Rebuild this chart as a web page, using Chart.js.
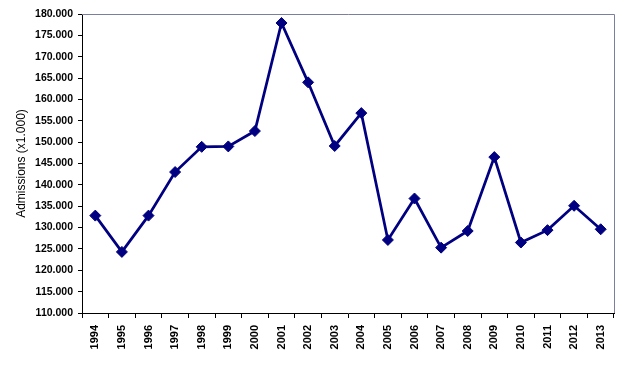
<!DOCTYPE html>
<html>
<head>
<meta charset="utf-8">
<script src="https://cdn.jsdelivr.net/npm/chart.js@4"></script>
<style>
  html, body { margin: 0; padding: 0; background: #fff; }
  #wrap { width: 641px; height: 370px; }
</style>
</head>
<body>
<div id="wrap"><canvas id="admissionsChart"></canvas></div>
<script>
// Chart data
const years = ['1994', '1995', '1996', '1997', '1998', '1999', '2000', '2001', '2002', '2003',
               '2004', '2005', '2006', '2007', '2008', '2009', '2010', '2011', '2012', '2013'];
const admissions = [132800, 124300, 132800, 143000, 148900, 149000, 152600, 177900, 164000, 149100,
                    156800, 127100, 136800, 125300, 129200, 146500, 126500, 129400, 135100, 129600];
const yMin = 110000;
const yMax = 180000;
const yStep = 5000;

// European thousands separator: 110000 -> 110.000
function formatThousands(v) {
    return String(v).replace(/\B(?=(\d{3})+(?!\d))/g, '.');
}

// Grey frame on top and right of the plot area
const frameLines = {
    id: 'frameLines',
    beforeDatasetsDraw(chart) {
        const { ctx, chartArea } = chart;
        ctx.save();
        ctx.strokeStyle = '#7b7f9e';
        ctx.lineWidth = 1;
        ctx.beginPath();
        ctx.moveTo(chartArea.left, chartArea.top + 0.5);
        ctx.lineTo(chartArea.right + 0.5, chartArea.top + 0.5);
        ctx.lineTo(chartArea.right + 0.5, chartArea.bottom);
        ctx.stroke();
        ctx.restore();
    }
};

const ctx = document.getElementById('admissionsChart').getContext('2d');
new Chart(ctx, {
    type: 'line',
    data: {
        labels: years,
        datasets: [{
            data: admissions,
            borderColor: '#000080',
            backgroundColor: '#000080',
            borderWidth: 2.75,
            pointStyle: 'rectRot',
            pointRadius: 5.5,
            pointHoverRadius: 5.5,
            pointBorderWidth: 1,
            tension: 0,
            fill: false
        }]
    },
    options: {
        responsive: true,
        maintainAspectRatio: false,
        animation: false,
        devicePixelRatio: 1,
        layout: { padding: { top: 14, right: 27, bottom: 0, left: 0 } },
        plugins: {
            legend: { display: false },
            tooltip: { enabled: false }
        },
        scales: {
            x: {
                offset: true,
                grid: {
                    display: true,
                    drawOnChartArea: false,
                    drawTicks: true,
                    tickLength: 5,
                    color: '#000',
                    offset: true
                },
                border: { display: true, color: '#000', width: 1 },
                ticks: {
                    color: '#000',
                    font: { family: 'Arial, "Liberation Sans"', size: 11, weight: 'bold' },
                    minRotation: 90,
                    maxRotation: 90,
                    autoSkip: false,
                    padding: 7
                },
                afterFit(scale) { scale.height = 57; }
            },
            y: {
                min: yMin,
                max: yMax,
                grid: {
                    display: true,
                    drawOnChartArea: false,
                    drawTicks: true,
                    tickLength: 4,
                    color: '#000'
                },
                border: { display: true, color: '#000', width: 1 },
                ticks: {
                    stepSize: yStep,
                    color: '#000',
                    font: { family: 'Arial, "Liberation Sans"', size: 10.5, weight: 'bold' },
                    padding: 5,
                    callback: v => formatThousands(v)
                },
                title: {
                    display: true,
                    text: 'Admissions (x1.000)',
                    color: '#000',
                    font: { family: 'Arial, "Liberation Sans"', size: 12, weight: 'normal' },
                    padding: { top: 14, bottom: 0 }
                },
                afterFit(scale) { scale.width = 82; }
            }
        }
    },
    plugins: [frameLines]
});
</script>
</body>
</html>
